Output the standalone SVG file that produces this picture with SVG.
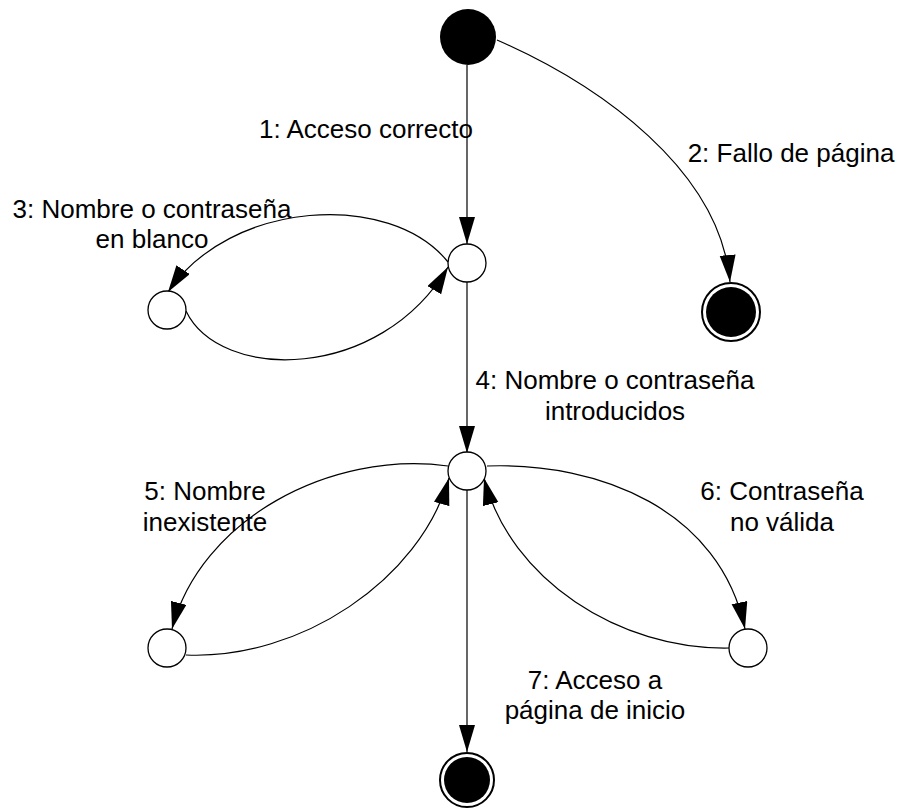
<svg xmlns="http://www.w3.org/2000/svg" width="899" height="808" viewBox="0 0 899 808">
<style>
.st{fill:#fff;stroke:#000;stroke-width:1.3}
.fin{fill:#fff;stroke:#000;stroke-width:2}
.blk{fill:#000}
.e{fill:none;stroke:#000;stroke-width:1.2}
text{font-family:"Liberation Sans",Arial,sans-serif;font-size:26px;fill:#000;text-anchor:middle}
</style>
<defs>
<marker id="ah" markerUnits="userSpaceOnUse" markerWidth="28" markerHeight="17" viewBox="0 0 28 17" refX="27" refY="8" orient="auto">
<path d="M0,0 L27,8 L0,16 z" fill="#000"/>
</marker>
</defs>
<g id="connectors">
<path class="e" d="M467,65 L467,244" marker-end="url(#ah)"/>
<path class="e" d="M497,40 C600,85 720,170 730,282" marker-end="url(#ah)"/>
<path class="e" d="M448,262 C390,190 230,200 168,292" marker-end="url(#ah)"/>
<path class="e" d="M186,311 C220,382 380,382 448,267" marker-end="url(#ah)"/>
<path class="e" d="M467,282 L467,453" marker-end="url(#ah)"/>
<path class="e" d="M448,466 C330,450 200,520 172,629" marker-end="url(#ah)"/>
<path class="e" d="M186,655 C300,660 420,580 449,478" marker-end="url(#ah)"/>
<path class="e" d="M487,466 C600,462 720,510 745,629" marker-end="url(#ah)"/>
<path class="e" d="M729,648 C620,650 510,580 484,478" marker-end="url(#ah)"/>
<path class="e" d="M467,490 L467,752" marker-end="url(#ah)"/>
</g>
<g id="labels">
<text x="366" y="138">1: Acceso correcto</text>
<text x="791" y="162">2: Fallo de página</text>
<text x="152" y="218">3: Nombre o contraseña</text>
<text x="152" y="248">en blanco</text>
<text x="615" y="389">4: Nombre o contraseña</text>
<text x="615" y="420">introducidos</text>
<text x="205" y="500">5: Nombre</text>
<text x="205" y="531">inexistente</text>
<text x="782" y="500">6: Contraseña</text>
<text x="782" y="531">no válida</text>
<text x="595" y="689">7: Acceso a</text>
<text x="595" y="719">página de inicio</text>
</g>
<g id="start"><circle class="blk" cx="468" cy="37" r="28"/></g>
<g id="s1"><circle class="st" cx="467" cy="263" r="19"/></g>
<g id="s3"><circle class="st" cx="167" cy="310" r="19"/></g>
<g id="endFail"><circle class="fin" cx="731" cy="312" r="29"/><circle class="blk" cx="731" cy="312" r="25"/></g>
<g id="s2"><circle class="st" cx="467" cy="471" r="19"/></g>
<g id="s5"><circle class="st" cx="167" cy="648" r="19"/></g>
<g id="s6"><circle class="st" cx="748" cy="648" r="19"/></g>
<g id="endOk"><circle class="fin" cx="467" cy="780" r="27"/><circle class="blk" cx="467" cy="780" r="23"/></g>
</svg>
